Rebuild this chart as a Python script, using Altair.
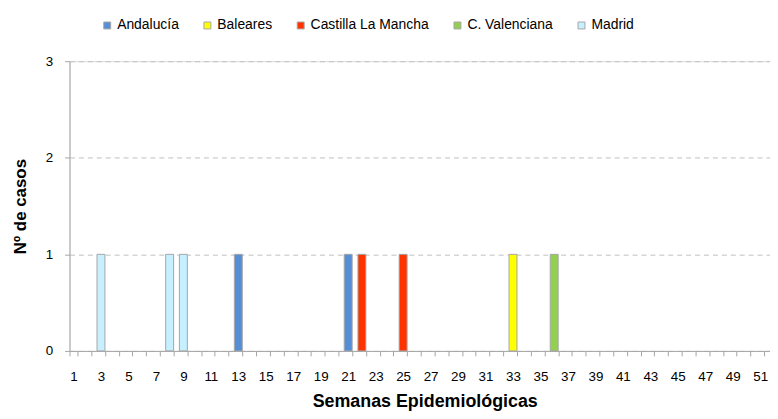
import altair as alt
import pandas as pd

weeks_all = list(range(1, 53))
case_weeks = [3, 8, 9, 13, 21, 22, 25, 33, 36]
case_regions = ["Madrid", "Madrid", "Madrid", "Andalucía", "Andalucía",
                "Castilla La Mancha", "Castilla La Mancha", "Baleares", "C. Valenciana"]
case_counts = [1, 1, 1, 1, 1, 1, 1, 1, 1]

regions = ["Andalucía", "Baleares", "Castilla La Mancha", "C. Valenciana", "Madrid"]
colors = ["#558ED5", "#FFFF00", "#FF3300", "#92D050", "#C6EFFF"]

df = pd.DataFrame({"semana": case_weeks, "region": case_regions, "casos": case_counts})

font = "Liberation Sans"

chart = alt.Chart(df).mark_bar(stroke="#A6A6A6", strokeWidth=1).encode(
    x=alt.X("semana:O", scale=alt.Scale(domain=weeks_all, range=[0, 714],
                                        paddingInner=0.42, paddingOuter=0),
            axis=alt.Axis(title="Semanas Epidemiológicas", labelAngle=0,
                          labelExpr="datum.value % 2 == 1 ? datum.label : ''",
                          tickBand="extent", domainColor="#A6A6A6", tickColor="#A6A6A6",
                          tickSize=5, labelFontSize=13.5, labelColor="#000", labelPadding=14,
                          titleFontSize=18, titleFontWeight="bold", titlePadding=10,
                          titleX=358, titleColor="#000", grid=False)),
    y=alt.Y("sum(casos):Q", scale=alt.Scale(domain=[0, 3]),
            axis=alt.Axis(title="Nº de casos", values=[0, 1, 2, 3], format="d",
                          domainColor="#A6A6A6", tickColor="#A6A6A6", tickSize=5,
                          gridColor="#BFBFBF", gridDash=[5, 4], labelFontSize=13.5,
                          labelColor="#000", labelPadding=12, titleFontSize=17,
                          titleFontWeight="bold", titlePadding=16, titleColor="#000")),
    color=alt.Color("region:N", scale=alt.Scale(domain=regions, range=colors),
                    legend=alt.Legend(title=None, orient="none", direction="horizontal",
                                      legendX=31, legendY=-43, symbolType="square",
                                      symbolSize=49, symbolStrokeColor="#A6A6A6",
                                      symbolStrokeWidth=1, labelFontSize=14,
                                      labelColor="#000", columnPadding=21, labelOffset=3)),
    order=alt.Order("region:N"),
).properties(
    width=706, height=292,
    autosize=alt.AutoSizeParams(type="none"),
    padding={"left": 62, "top": 52, "right": 0, "bottom": 67},
).configure_view(stroke=None).configure(font=font)

chart.save("out.html", embed_options={"renderer": "svg", "actions": False})
